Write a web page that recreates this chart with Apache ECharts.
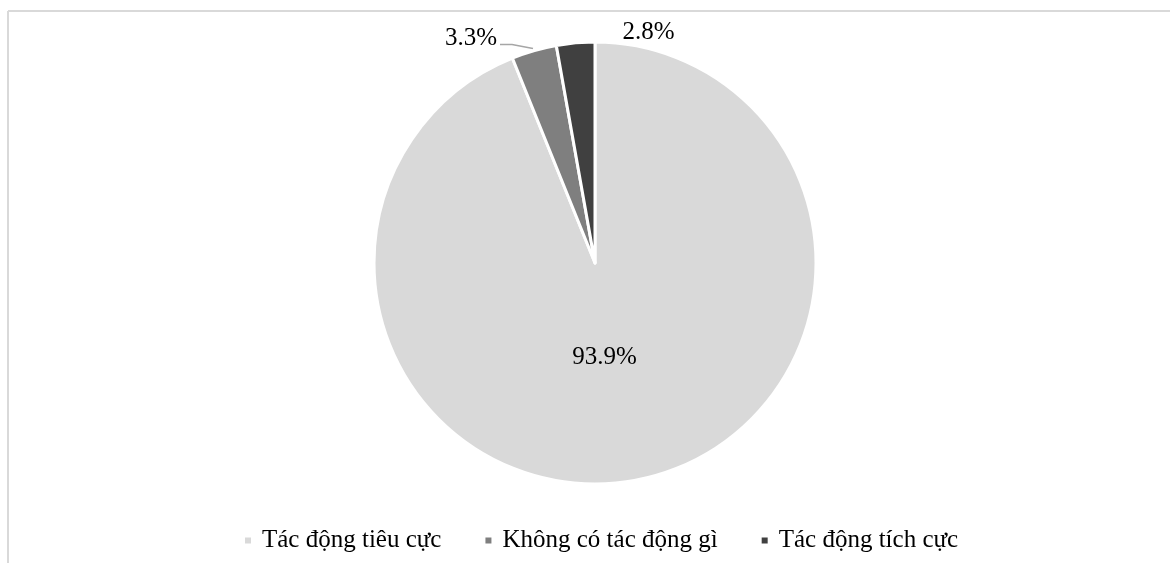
<!DOCTYPE html>
<html>
<head>
<meta charset="utf-8">
<script src="https://cdn.jsdelivr.net/npm/echarts@6/dist/echarts.min.js"></script>
<style>
  html, body { margin: 0; padding: 0; background: #fff; }
  #chart { width: 1170px; height: 563px; }
</style>
</head>
<body>
<div id="chart"></div>
<script>
// du lieu bieu do
var categories = ['Tác động tiêu cực', 'Không có tác động gì', 'Tác động tích cực']
var values = [93.9, 3.3, 2.8]
var colors = ['#d9d9d9', '#7f7f7f', '#404040']

var myChart = echarts.init(document.getElementById('chart'))

var pieData = categories.map(function (name, i) {
  var item = {
    name: name,
    value: values[i],
    itemStyle: { color: colors[i] }
  }
  if (i === 0) {
    // nhan lon nam ben trong
    item.label = { position: 'inside', offset: [-12, -17] }
    item.labelLine = { show: false }
  }
  return item
})

// dat lai vi tri nhan nho giong Excel (duong dan nam ngang)
function smallLabelLayout(params) {
  var pts = params.labelLinePoints
  if (!pts || params.dataIndex === 0) return {}
  var p0 = pts[0]
  if (params.dataIndex === 1) {
    return {
      x: p0[0] - 37,
      y: p0[1] - 12,
      align: 'right',
      verticalAlign: 'middle',
      labelLinePoints: [[p0[0] - 1, p0[1] - 2], [p0[0] - 22, p0[1] - 6], [p0[0] - 34, p0[1] - 6]]
    }
  }
  return {
    x: p0[0] + 47,
    y: p0[1] - 10,
    align: 'left',
    verticalAlign: 'middle',
    labelLinePoints: [[p0[0] + 20, p0[1] + 7], [p0[0] + 30, p0[1] + 1], [p0[0] + 43, p0[1] + 1]]
  }
}

var option = {
  backgroundColor: '#fff',
  textStyle: { fontFamily: 'Liberation Serif, Times New Roman, serif' },
  graphic: [
    // khung vien
    { type: 'line', shape: { x1: 8, y1: 11, x2: 1170, y2: 11 }, style: { stroke: '#d9d9d9', lineWidth: 2 } },
    { type: 'line', shape: { x1: 8, y1: 11, x2: 8, y2: 563 }, style: { stroke: '#d9d9d9', lineWidth: 2 } }
  ],
  legend: {
    top: 523,
    left: 238,
    icon: 'rect',
    itemWidth: 8,
    itemHeight: 8,
    itemGap: 42,
    textStyle: { fontSize: 25, color: '#000', fontFamily: 'Liberation Serif', padding: [0, 0, 0, 5] },
    data: categories
  },
  series: [
    {
      type: 'pie',
      center: [595, 263],
      radius: [0, 221],
      startAngle: 90,
      clockwise: true,
      avoidLabelOverlap: false,
      itemStyle: { borderColor: '#fff', borderWidth: 3 },
      label: {
        show: true,
        formatter: function (p) { return p.value.toFixed(1) + '%' },
        fontSize: 25,
        color: '#000',
        fontFamily: 'Liberation Serif'
      },
      labelLine: {
        show: true,
        showAbove: true,
        length: 10,
        length2: 12,
        minTurnAngle: 0,
        maxSurfaceAngle: 180,
        lineStyle: { color: '#a6a6a6', width: 1.5 }
      },
      labelLayout: smallLabelLayout,
      emphasis: { disabled: true },
      data: pieData
    }
  ]
}

myChart.setOption(option)
</script>
</body>
</html>
